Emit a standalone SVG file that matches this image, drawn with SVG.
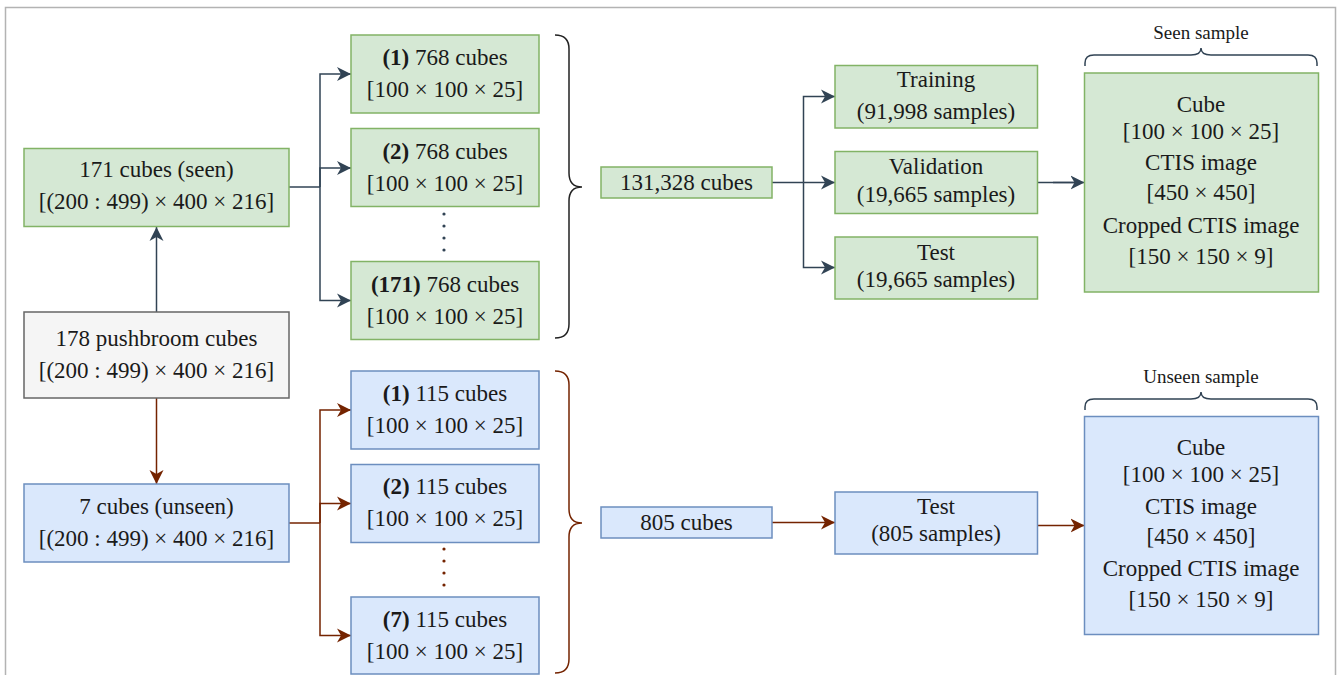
<svg xmlns="http://www.w3.org/2000/svg" width="1339" height="675" viewBox="0 0 1339 675">
  <style>
    text { font-family: "Liberation Serif", "Times New Roman", serif; font-size: 23px; fill: #1a1a1a; text-anchor: middle; }
    text.small { font-size: 19px; }
    .b { font-weight: bold; }
    .green { fill: #d5e8d4; stroke: #82b366; stroke-width: 1.5; }
    .blue { fill: #dae8fc; stroke: #6c8ebf; stroke-width: 1.5; }
    .gray { fill: #f5f5f5; stroke: #666666; stroke-width: 1.5; }
    .slate { fill: none; stroke: #314354; stroke-width: 1.5; }
    .red { fill: none; stroke: #742300; stroke-width: 1.5; }
    .brace { fill: none; stroke: #222222; stroke-width: 1.5; }
  </style>
  <defs>
    <marker id="arrowSlate" markerUnits="userSpaceOnUse" markerWidth="15" markerHeight="15" refX="14" refY="7.5" orient="auto">
      <path d="M0,0.5 L14,7.5 L0,14.5 L4,7.5 Z" fill="#314354"/>
    </marker>
    <marker id="arrowRed" markerUnits="userSpaceOnUse" markerWidth="15" markerHeight="15" refX="14" refY="7.5" orient="auto">
      <path d="M0,0.5 L14,7.5 L0,14.5 L4,7.5 Z" fill="#742300"/>
    </marker>
  </defs>

  <!-- outer frame -->
  <rect x="5.5" y="7.5" width="1330" height="700" fill="#ffffff" stroke="#b3b3b3" stroke-width="1.5"/>

  <!-- connectors -->
  <g id="connectors">
    <!-- seen branch -->
    <path class="slate" d="M156.5,312 V227" marker-end="url(#arrowSlate)"/>
    <path class="slate" d="M289,187 H320" stroke-width="2.2"/>
    <path class="slate" d="M320,187 V74 H351" marker-end="url(#arrowSlate)"/>
    <path class="slate" d="M320,187 V168 H351" marker-end="url(#arrowSlate)"/>
    <path class="slate" d="M320,187 V300.5 H351" marker-end="url(#arrowSlate)"/>
    <!-- split into training / validation / test -->
    <path class="slate" d="M772,182.5 H803.5" stroke-width="2.2"/>
    <path class="slate" d="M803.5,182.5 V96.5 H835" marker-end="url(#arrowSlate)"/>
    <path class="slate" d="M803.5,182.5 H835" marker-end="url(#arrowSlate)"/>
    <path class="slate" d="M803.5,182.5 V267.5 H835" marker-end="url(#arrowSlate)"/>
    <path class="slate" d="M1037.5,182.5 H1084.5" marker-end="url(#arrowSlate)"/>
    <path class="slate" d="M1053,182.5 H1074" stroke-width="2.6"/>
    <!-- unseen branch -->
    <path class="red" d="M156.5,398 V484" marker-end="url(#arrowRed)"/>
    <path class="red" d="M289,523 H320" stroke-width="2.2"/>
    <path class="red" d="M320,523 V410 H351" marker-end="url(#arrowRed)"/>
    <path class="red" d="M320,523 V503.5 H351" marker-end="url(#arrowRed)"/>
    <path class="red" d="M320,523 V635.5 H351" marker-end="url(#arrowRed)"/>
    <path class="red" d="M772,522.5 H835" marker-end="url(#arrowRed)"/>
    <path class="red" d="M1037.5,525.5 H1084.5" marker-end="url(#arrowRed)"/>
  </g>

  <!-- braces -->
  <g id="braces">
    <path class="brace" d="M555,35 Q569,35 569,49 V173 Q569,187 582,187 Q569,187 569,201 V324 Q569,338 555,338"/>
    <path class="brace" style="stroke:#742300" d="M555,371 Q569,371 569,385 V509 Q569,523 582,523 Q569,523 569,537 V659 Q569,673 555,673"/>
    <path class="slate" d="M1085,66 V63 Q1085,55 1094,55 H1191 Q1201,55 1201,48 Q1201,55 1211,55 H1308 Q1317,55 1317,63 V66"/>
    <path class="slate" d="M1085,410 V407 Q1085,399 1094,399 H1191 Q1201,399 1201,392 Q1201,399 1211,399 H1308 Q1317,399 1317,407 V410"/>
  </g>

  <!-- left column -->
  <g id="seen-cubes">
    <rect class="green" x="24" y="148.5" width="265" height="78"/>
    <text x="156.5" y="177">171 cubes (seen)</text>
    <text x="156.5" y="209">[(200 : 499) × 400 × 216]</text>
  </g>
  <g id="pushbroom-cubes">
    <rect class="gray" x="24" y="312" width="265" height="86"/>
    <text x="156.5" y="346">178 pushbroom cubes</text>
    <text x="156.5" y="378">[(200 : 499) × 400 × 216]</text>
  </g>
  <g id="unseen-cubes">
    <rect class="blue" x="24" y="484" width="265" height="78"/>
    <text x="156.5" y="514">7 cubes (unseen)</text>
    <text x="156.5" y="546">[(200 : 499) × 400 × 216]</text>
  </g>

  <!-- seen split cubes -->
  <g id="seen-1">
    <rect class="green" x="351" y="35" width="188" height="78"/>
    <text x="445" y="65"><tspan class="b">(1)</tspan> 768 cubes</text>
    <text x="445" y="97">[100 × 100 × 25]</text>
  </g>
  <g id="seen-2">
    <rect class="green" x="351" y="128.5" width="188" height="78"/>
    <text x="445" y="158.5"><tspan class="b">(2)</tspan> 768 cubes</text>
    <text x="445" y="190.5">[100 × 100 × 25]</text>
  </g>
  <g id="seen-dots" fill="#314354">
    <circle cx="444" cy="214" r="1.6"/>
    <circle cx="444" cy="226" r="1.6"/>
    <circle cx="444" cy="238" r="1.6"/>
    <circle cx="444" cy="250" r="1.6"/>
  </g>
  <g id="seen-171">
    <rect class="green" x="351" y="261.5" width="188" height="78"/>
    <text x="445" y="291.5"><tspan class="b">(171)</tspan> 768 cubes</text>
    <text x="445" y="323.5">[100 × 100 × 25]</text>
  </g>

  <!-- unseen split cubes -->
  <g id="unseen-1">
    <rect class="blue" x="351" y="371" width="188" height="78"/>
    <text x="445" y="401"><tspan class="b">(1)</tspan> 115 cubes</text>
    <text x="445" y="433">[100 × 100 × 25]</text>
  </g>
  <g id="unseen-2">
    <rect class="blue" x="351" y="464.5" width="188" height="78"/>
    <text x="445" y="494"><tspan class="b">(2)</tspan> 115 cubes</text>
    <text x="445" y="526">[100 × 100 × 25]</text>
  </g>
  <g id="unseen-dots" fill="#742300">
    <circle cx="444" cy="549" r="1.6"/>
    <circle cx="444" cy="561" r="1.6"/>
    <circle cx="444" cy="573" r="1.6"/>
    <circle cx="444" cy="585" r="1.6"/>
  </g>
  <g id="unseen-7">
    <rect class="blue" x="351" y="597" width="188" height="77"/>
    <text x="445" y="627"><tspan class="b">(7)</tspan> 115 cubes</text>
    <text x="445" y="659">[100 × 100 × 25]</text>
  </g>

  <!-- totals -->
  <g id="seen-total">
    <rect class="green" x="601" y="167" width="171" height="31"/>
    <text x="686.5" y="189.5">131,328 cubes</text>
  </g>
  <g id="unseen-total">
    <rect class="blue" x="601" y="507" width="171" height="31"/>
    <text x="686.5" y="530">805 cubes</text>
  </g>

  <!-- dataset splits -->
  <g id="training">
    <rect class="green" x="835" y="65.5" width="202.5" height="62.5"/>
    <text x="936" y="87">Training</text>
    <text x="936" y="119">(91,998 samples)</text>
  </g>
  <g id="validation">
    <rect class="green" x="835" y="151.5" width="202.5" height="62"/>
    <text x="936" y="174">Validation</text>
    <text x="936" y="202">(19,665 samples)</text>
  </g>
  <g id="test-seen">
    <rect class="green" x="835" y="237" width="202.5" height="62"/>
    <text x="936" y="260">Test</text>
    <text x="936" y="287">(19,665 samples)</text>
  </g>
  <g id="test-unseen">
    <rect class="blue" x="835" y="492" width="202.5" height="62"/>
    <text x="936" y="514">Test</text>
    <text x="936" y="541">(805 samples)</text>
  </g>

  <!-- sample descriptions -->
  <g id="seen-sample">
    <text class="small" x="1201" y="39">Seen sample</text>
    <rect class="green" x="1084.5" y="73" width="234" height="219"/>
    <text x="1201" y="112">Cube</text>
    <text x="1201" y="139">[100 × 100 × 25]</text>
    <text x="1201" y="170">CTIS image</text>
    <text x="1201" y="200">[450 × 450]</text>
    <text x="1201" y="233">Cropped CTIS image</text>
    <text x="1201" y="264">[150 × 150 × 9]</text>
  </g>
  <g id="unseen-sample">
    <text class="small" x="1201" y="383">Unseen sample</text>
    <rect class="blue" x="1084.5" y="416.5" width="234" height="218"/>
    <text x="1201" y="455">Cube</text>
    <text x="1201" y="482">[100 × 100 × 25]</text>
    <text x="1201" y="514">CTIS image</text>
    <text x="1201" y="544">[450 × 450]</text>
    <text x="1201" y="576">Cropped CTIS image</text>
    <text x="1201" y="607">[150 × 150 × 9]</text>
  </g>
</svg>
